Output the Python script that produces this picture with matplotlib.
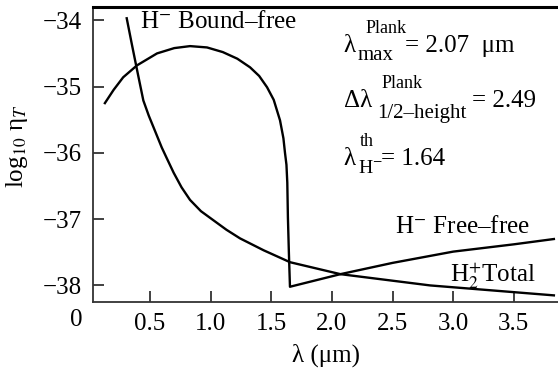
import matplotlib.pyplot as plt

plt.rcParams["font.family"] = ["Liberation Serif", "DejaVu Serif"]
plt.rcParams["mathtext.fontset"] = "stix"

# H^- bound-free followed by the free-free branch (one continuous curve)
hminus_lam = [0.128, 0.20, 0.279, 0.393, 0.558, 0.70, 0.83, 0.97, 1.10, 1.22,
              1.325, 1.40, 1.465, 1.52, 1.572, 1.600, 1.613, 1.625, 1.632, 1.637, 1.645, 1.654,
              2.07, 2.5, 3.0, 3.5, 3.83]
hminus_eta = [-35.25, -35.05, -34.86, -34.68, -34.50, -34.42, -34.39, -34.41, -34.48, -34.58,
              -34.71, -34.84, -35.01, -35.20, -35.51, -35.78, -36.00, -36.18, -36.45, -36.97, -37.50, -38.02,
              -37.83, -37.66, -37.49, -37.38, -37.30]

# H2+ total
h2p_lam = [0.308, 0.349, 0.391, 0.445, 0.49, 0.528, 0.597, 0.638, 0.695, 0.76, 0.83, 0.92, 1.025, 1.13,
           1.242, 1.437, 1.655, 2.07, 2.81, 3.49, 3.83]
h2p_eta = [-33.97, -34.35, -34.73, -35.21, -35.44, -35.61, -35.92, -36.08, -36.30, -36.52, -36.71, -36.88, -37.02, -37.16,
           -37.29, -37.47, -37.65, -37.83, -38.00, -38.10, -38.15]

x_ticks = [0.5, 1.0, 1.5, 2.0, 2.5, 3.0, 3.5]
x_tick_labels = ["0.5", "1.0", "1.5", "2.0", "2.5", "3.0", "3.5"]
y_ticks = [-38, -37, -36, -35, -34]
y_tick_labels = ["\u221238", "\u221237", "\u221236", "\u221235", "\u221234"]

fig = plt.figure(figsize=(5.58, 3.71), dpi=100)
ax = fig.add_axes([93 / 558, 1 - 302 / 371, 1 - 93 / 558, (302 - 7) / 371])

ax.plot(hminus_lam, hminus_eta, color="black", linewidth=1.7)
ax.plot(h2p_lam, h2p_eta, color="black", linewidth=1.7)

ax.set_xlim(0.03, 3.864)
ax.set_ylim(-38.25, -33.80)

ax.set_xticks(x_ticks)
ax.set_xticklabels(x_tick_labels)
ax.set_yticks(y_ticks)
ax.set_yticklabels(y_tick_labels)
ax.tick_params(direction="in", length=8, width=1.3, labelsize=18, pad=8, color="#333333")

ax.spines["right"].set_visible(False)
ax.spines["top"].set_linewidth(2.2)
ax.spines["left"].set_linewidth(1.3)
ax.spines["bottom"].set_linewidth(1.3)
ax.spines["left"].set_color("#333333")
ax.spines["bottom"].set_color("#333333")

fig.text(76 / 558, 1 - 320 / 371, "0", fontsize=18, ha="center", va="center")

ax.set_xlabel("\u03bb (\u03bcm)", fontsize=18, labelpad=6)
ax.set_ylabel("log$_{10}$ \u03b7$_T$", fontsize=18)
ax.yaxis.set_label_coords(-0.135, 0.53)

ax.text(0.418, -34.12, "H$^{-}$ Bound\u2013free", fontsize=18, va="baseline")
ax.text(2.52, -37.21, "H$^{-}$ Free\u2013free", fontsize=18, va="baseline")
ax.text(2.97, -37.95, "H$_2^{+}$Total", fontsize=18, va="baseline")


def put(x, y, s, dx, dy, size):
    ax.annotate(s, (x, y), xytext=(dx, dy), textcoords="offset points",
                fontsize=size, va="baseline", ha="left")


# lambda_max^Plank = 2.07 um
put(2.092, -34.483, "\u03bb", 0, 0, 18)
put(2.092, -34.483, "max", 10.8, -5.8, 15)
put(2.092, -34.483, "Plank", 16, 13.7, 13)
put(2.092, -34.483, "= 2.07  \u03bcm", 44.6, 0, 18)

# Delta lambda_1/2-height^Plank = 2.49
put(2.100, -35.312, "\u0394\u03bb", 0, 0, 18)
put(2.100, -35.312, "1/2\u2013height", 23.8, -7.9, 15)
put(2.100, -35.312, "Plank", 27, 13.7, 13)
put(2.100, -35.312, "= 2.49", 92, 0, 18)

# lambda_H-^th = 1.64
put(2.092, -36.187, "\u03bb", 0, 0, 18)
put(2.092, -36.187, "H$^{-}$", 10.8, -5.8, 14)
put(2.092, -36.187, "th", 12.2, 13.7, 13)
put(2.092, -36.187, "= 1.64", 27.5, 0, 18)

fig.savefig("out.png", dpi=100)
